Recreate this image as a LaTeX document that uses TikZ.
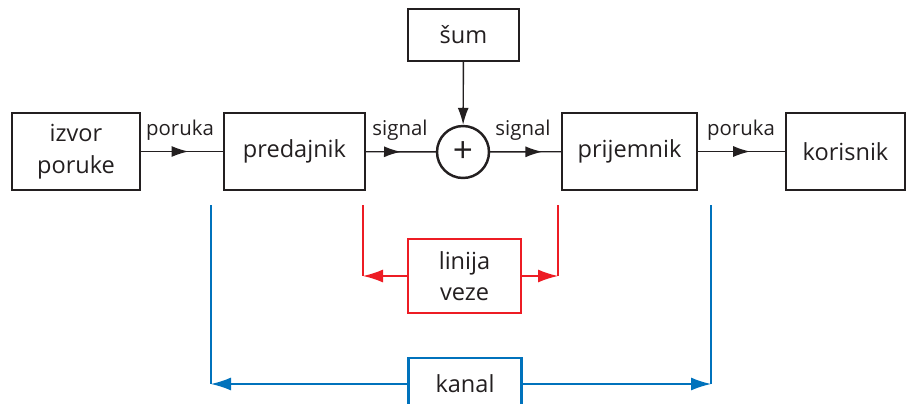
\documentclass[tikz,border=0pt]{standalone}
\usepackage{fontspec}
\setmainfont{Open Sans}
\usetikzlibrary{arrows.meta,decorations.markings}
\definecolor{ink}{RGB}{35,31,32}
\definecolor{vezec}{RGB}{237,28,36}
\definecolor{kanalc}{RGB}{0,114,188}

\begin{document}
\begin{tikzpicture}[x=0.02cm, y=-0.02cm,
    blok/.style={rectangle, draw=ink, line width=1.4pt, minimum height=1.54cm, inner sep=0pt,
      align=center, text=ink, font=\fontsize{13.4}{18}\selectfont},
    zbir/.style={circle, draw=ink, line width=1.4pt, minimum size=1.04cm, inner sep=0pt,
      text=ink, font=\fontsize{20}{20}\selectfont},
    veza/.style={draw=ink, line width=0.8pt},
    tok/.style={veza, postaction={decorate}, decoration={markings,
      mark=at position #1 with {\arrow{Latex[length=3.4mm,width=2.2mm]}}}},
    tok/.default=0.5,
    oznaka/.style={text=ink, font=\fontsize{11.6}{14}\selectfont},
    crvena/.style={draw=vezec, line width=0.8pt},
    plava/.style={draw=kanalc, line width=0.8pt},
    vrh/.style={-{Latex[length=4mm,width=2.6mm]}},
  ]
  \useasboundingbox (0,0) rectangle (918,403);

  % --- main chain: source, transmitter, adder, receiver, user
  \node[blok, minimum width=2.56cm] (izvor) at (76,151.5) {izvor\\poruke};
  \node[blok, minimum width=2.82cm] (pred) at (294.5,151.5) {predajnik};
  \node[zbir] (plus) at (463,152) {+};
  \node[blok, minimum width=2.22cm, minimum height=1.04cm] (sum) at (463.5,35) {šum};
  \node[blok, minimum width=2.70cm] (prij) at (629.5,151.5) {prijemnik};
  \node[blok, minimum width=2.38cm] (kor) at (845.5,151.5) {korisnik};

  \draw[tok=0.58] (izvor) -- (pred);
  \draw[tok=0.5] (pred) -- (plus);
  \draw[veza, -{Latex[length=3.4mm,width=2.2mm]}] (sum) -- (plus);
  \draw[tok=0.74] (plus) -- (prij);
  \draw[tok=0.6] (prij) -- (kor);

  \node[oznaka] (l1) at (180,130) {poruka};
  \node[oznaka] (l2) at (400,130) {signal};
  \node[oznaka] (l3) at (523,130) {signal};
  \node[oznaka] (l4) at (741,130) {poruka};

  % --- line of connection (red)
  \node[blok, draw=vezec, minimum width=2.26cm, minimum height=1.48cm] (linija) at (464.5,276) {linija\\veze};
  \coordinate (rLt) at (363,205);
  \coordinate (rL) at (363,276);
  \coordinate (rDt) at (558,205);
  \coordinate (rD) at (558,276);
  \draw[crvena] (rLt) -- (rL);
  \draw[crvena] (rDt) -- (rD);
  \draw[crvena, vrh] (linija.west) -- (rL);
  \draw[crvena, vrh] (linija.east) -- (rD);

  % --- channel (blue)
  \node[blok, draw=kanalc, minimum width=2.26cm, minimum height=1.04cm] (kanal) at (465,384) {kanal};
  \coordinate (bLt) at (211,205);
  \coordinate (bL) at (211,384);
  \coordinate (bDt) at (711,205);
  \coordinate (bD) at (711,384);
  \draw[plava] (bLt) -- (bL);
  \draw[plava] (bDt) -- (bD);
  \draw[plava, vrh] (kanal.west) -- (bL);
  \draw[plava, vrh] (kanal.east) -- (bD);

\end{tikzpicture}
\end{document}
